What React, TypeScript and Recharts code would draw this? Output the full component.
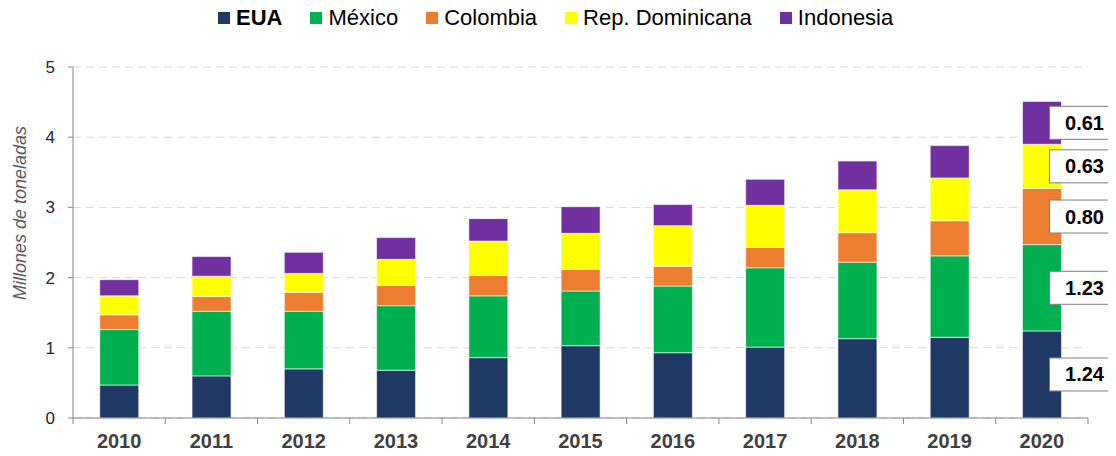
import { BarChart, Bar, XAxis, YAxis, CartesianGrid, LabelList } from 'recharts';

const years = ['2010', '2011', '2012', '2013', '2014', '2015', '2016', '2017', '2018', '2019', '2020'];
const eua = [0.47, 0.60, 0.70, 0.68, 0.86, 1.03, 0.93, 1.01, 1.13, 1.15, 1.24];
const mexico = [0.79, 0.92, 0.82, 0.92, 0.88, 0.78, 0.95, 1.13, 1.09, 1.16, 1.23];
const colombia = [0.21, 0.21, 0.27, 0.29, 0.29, 0.31, 0.28, 0.29, 0.42, 0.50, 0.80];
const repDominicana = [0.27, 0.29, 0.27, 0.37, 0.49, 0.51, 0.58, 0.60, 0.61, 0.61, 0.63];
const indonesia = [0.23, 0.28, 0.30, 0.31, 0.32, 0.38, 0.30, 0.37, 0.41, 0.46, 0.61];
const yTicks = [0, 1, 2, 3, 4, 5];

const series = [
  { key: 'eua', name: 'EUA', color: '#203864', values: eua, bold: true },
  { key: 'mexico', name: 'México', color: '#00B050', values: mexico, bold: false },
  { key: 'colombia', name: 'Colombia', color: '#ED7D31', values: colombia, bold: false },
  { key: 'repDominicana', name: 'Rep. Dominicana', color: '#FFFF00', values: repDominicana, bold: false },
  { key: 'indonesia', name: 'Indonesia', color: '#7030A0', values: indonesia, bold: false },
];

const data = years.map((year, i) => {
  const row: Record<string, string | number> = { year };
  series.forEach((s) => { row[s.key] = s.values[i]; });
  return row;
});

const LAST = years.length - 1;
const FONT = '"Liberation Sans", Arial, sans-serif';
const AXIS = '#868686';

function XTick(props: any) {
  const { x, y, payload, index } = props;
  const half = payload && payload.offset ? payload.offset : 46;
  return (
    <g>
      <line x1={x - half} y1={y} x2={x - half} y2={y + 6} stroke={AXIS} />
      {index === LAST && <line x1={x + half} y1={y} x2={x + half} y2={y + 6} stroke={AXIS} />}
      <text x={x} y={y + 30} textAnchor="middle" fontSize={20} fontWeight="bold" fill="#404040" fontFamily={FONT}>
        {payload.value}
      </text>
    </g>
  );
}

function YLabel() {
  return (
    <text x={20} y={213} transform="rotate(-90 20 213)" textAnchor="middle" dominantBaseline="central"
      fontStyle="italic" fontSize={18} fill="#595959" fontFamily={FONT}>
      Millones de toneladas
    </text>
  );
}

function makeBoxLabel(values: number[]) {
  return (props: any) => {
    const vb = props.viewBox && props.viewBox.width !== undefined ? props.viewBox : props;
    if (props.index !== LAST) return null;
    const x = Number(vb.x);
    const w = Number(vb.width);
    const y = Number(vb.y);
    const h = Number(vb.height);
    const cy = y + h / 2;
    const bx = x + w - 12;
    return (
      <g>
        <rect x={bx} y={cy - 16.5} width={65} height={33} fill="#ffffff" stroke="#7f7f7f" strokeWidth={1} />
        <text x={bx + 35} y={cy} textAnchor="middle" dominantBaseline="central" fontSize={20}
          fontWeight="bold" fill="#000" fontFamily={FONT}>
          {values[LAST].toFixed(2)}
        </text>
      </g>
    );
  };
}

export default function App() {
  return (
    <div style={{ margin: -8, position: 'relative', width: 1116, height: 456, fontFamily: FONT }}>
      <div style={{ position: 'absolute', top: 0, left: 218, height: 35, display: 'flex', alignItems: 'center', zIndex: 2 }}>
        {series.map((s, i) => (
          <div key={s.key} style={{ display: 'flex', alignItems: 'center', marginRight: i < series.length - 1 ? 28 : 0 }}>
            <span style={{ width: 12, height: 12, background: s.color, display: 'inline-block', marginRight: 6 }} />
            <span style={{ fontSize: 22, fontWeight: s.bold ? 'bold' : 'normal', color: '#000', whiteSpace: 'nowrap' }}>
              {s.name}
            </span>
          </div>
        ))}
      </div>
      <BarChart width={1116} height={456} data={data} margin={{ top: 67, right: 28, left: 0, bottom: 0 }}
        barCategoryGap="29%">
        <CartesianGrid vertical={false} stroke="#d9d9d9" strokeDasharray="8 5" />
        <XAxis dataKey="year" height={38} axisLine={{ stroke: AXIS }} tickLine={false} tickSize={0}
          tickMargin={0} tick={<XTick />} interval={0} />
        <YAxis domain={[0, 5]} ticks={yTicks} width={73} axisLine={{ stroke: AXIS }} tickLine={{ stroke: AXIS }}
          tickSize={5} tickMargin={13} tick={{ fontSize: 17, fill: '#262626', fontFamily: FONT }}
          label={<YLabel />} />
        {series.map((s) => (
          <Bar key={s.key} dataKey={s.key} name={s.name} stackId="a" fill={s.color} stroke="#ffffff"
            strokeWidth={0.6} isAnimationActive={false}>
            <LabelList dataKey={s.key} content={makeBoxLabel(s.values)} />
          </Bar>
        ))}
      </BarChart>
    </div>
  );
}
